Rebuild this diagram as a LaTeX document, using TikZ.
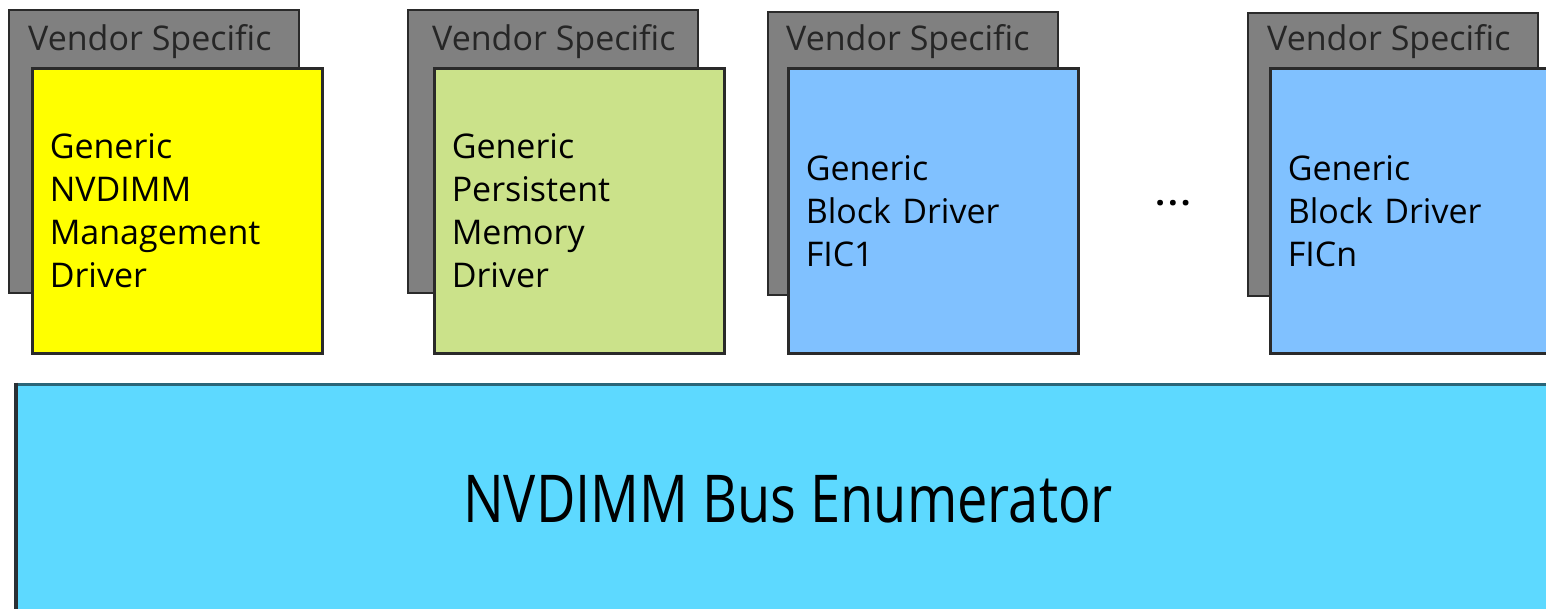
\documentclass[tikz,border=0pt]{standalone}
\usepackage{fontspec}
\setmainfont{Open Sans}
\newfontfamily\busfont[FakeStretch=0.82]{Open Sans}
\definecolor{vsgray}{HTML}{808080}
\definecolor{edge}{HTML}{2A2A2A}
\definecolor{mgmtyellow}{HTML}{FFFF00}
\definecolor{pmgreen}{HTML}{CBE28A}
\definecolor{blkblue}{HTML}{80C1FF}
\definecolor{busblue}{HTML}{5DD9FF}
\definecolor{bustop}{HTML}{2A6578}
\definecolor{busleft}{HTML}{2A3035}
\tikzset{
  vendorbox/.style={draw=edge, fill=vsgray, line width=2pt, minimum width=290pt, minimum height=283pt, anchor=north west, inner sep=0pt},
  drvbox/.style={draw=edge, line width=2.5pt, minimum width=290pt, minimum height=285pt, anchor=north west, inner xsep=17.5pt, inner ysep=0pt, text width=255pt, align=left, font=\fontsize{34}{43}\selectfont, text=black},
  vendortext/.style={anchor=base west, inner sep=0pt, font=\fontsize{34}{43}\selectfont, text=black!85},
}
\begin{document}
\begin{tikzpicture}[x=1pt,y=-1pt]
\clip (0,0) rectangle (1546,608);
\fill[white] (0,0) rectangle (1546,608);
% column 1
\node[vendorbox] (g1) at (8,9) {};
\node[vendortext] (t1) at (28,50) {Vendor Specific};
\node[drvbox, fill=mgmtyellow] (c1) at (31,67) {Generic\\NVDIMM\\Management\\Driver};
% column 2
\node[vendorbox] (g2) at (407,9) {};
\node[vendortext] (t2) at (432,50) {Vendor Specific};
\node[drvbox, fill=pmgreen] (c2) at (433,67) {Generic\\Persistent\\Memory\\Driver};
% column 3
\node[vendorbox] (g3) at (767,11) {};
\node[vendortext] (t3) at (786,50) {Vendor Specific};
\node[drvbox, fill=blkblue] (c3) at (787,67) {Generic\\Block Driver\\FIC1};
% dots
\node[anchor=base, inner sep=0pt, font=\bfseries\fontsize{34}{43}\selectfont] (dots) at (1173,205) {.\hspace{3pt}.\hspace{3pt}.};
% column 4
\node[vendorbox] (g4) at (1247,12) {};
\node[vendortext] (t4) at (1267,50) {Vendor Specific};
\node[drvbox, fill=blkblue] (c4) at (1269,67) {Generic\\Block Driver\\FICn};
% bus
\node[fill=busblue, minimum width=1560pt, minimum height=260pt, anchor=north west, inner sep=0pt] (bus) at (16,384) {};
\draw[line width=3pt, bustop] (bus.north west) -- (bus.north east);
\draw[line width=4pt, busleft] ([yshift=1.5pt]bus.north west) -- (bus.south west);
\node[anchor=base, inner sep=0pt, font=\busfont\fontsize{66}{66}\selectfont, text=black] (bustext) at (788,522) {NVDIMM Bus Enumerator};
\end{tikzpicture}
\end{document}
